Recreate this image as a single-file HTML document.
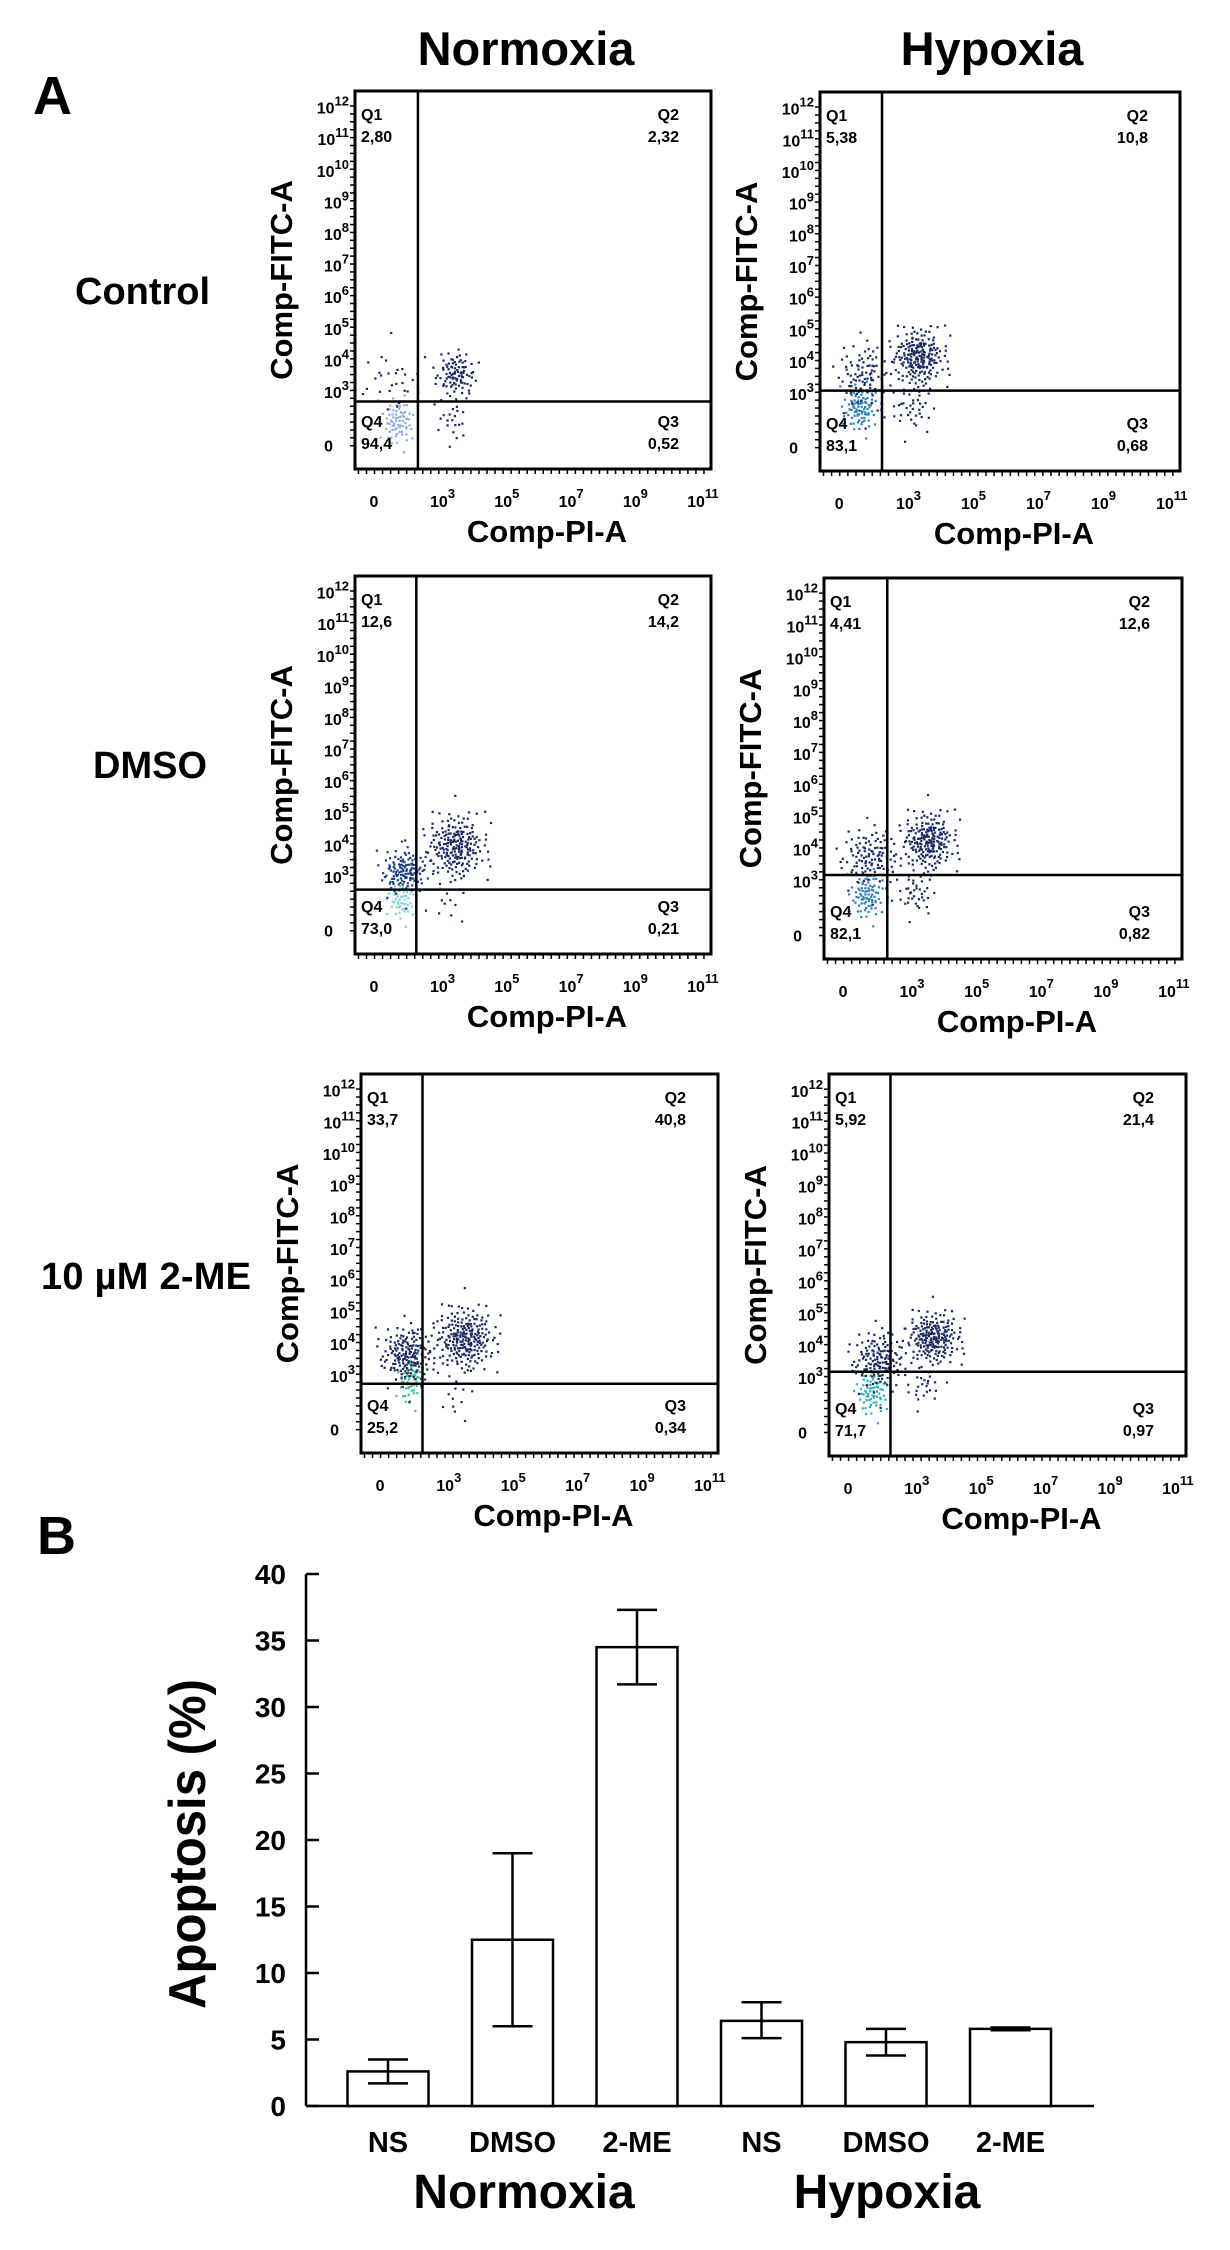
<!DOCTYPE html>
<html><head><meta charset="utf-8"><title>Flow cytometry and apoptosis</title>
<style>
html,body{margin:0;padding:0;background:#fff;}
svg{display:block;}
text{font-family:"Liberation Sans",Arial,sans-serif;fill:#000;}
</style></head>
<body>
<svg id="fig" width="1230" height="2250" viewBox="0 0 1230 2250" xmlns="http://www.w3.org/2000/svg">
<rect x="0" y="0" width="1230" height="2250" fill="#fff"/>
<text x="33" y="114" font-size="54" font-weight="bold">A</text>
<text x="526" y="65" font-size="47" font-weight="bold" text-anchor="middle">Normoxia</text>
<text x="992" y="65" font-size="47" font-weight="bold" text-anchor="middle">Hypoxia</text>
<text x="75" y="304" font-size="38" font-weight="bold">Control</text>
<text x="93" y="778" font-size="38" font-weight="bold">DMSO</text>
<text x="41" y="1289" font-size="38" font-weight="bold" textLength="210">10 µM 2-ME</text>
<text x="37" y="1554" font-size="54" font-weight="bold">B</text>
<g id="flow"></g>
<g id="bars"></g>
</svg>
<script>
// ---------- Bar chart data ----------
const categories = ["NS","DMSO","2-ME","NS","DMSO","2-ME"];
const apoptosisValues = [2.6, 12.5, 34.5, 6.4, 4.8, 5.8];
const errUpper = [3.5, 19.0, 37.3, 7.8, 5.8, 5.9];
const errLower = [1.7, 6.0, 31.7, 5.1, 3.8, 5.7];
const yTicks = [0,5,10,15,20,25,30,35,40];
const groupLabels = ["Normoxia","Hypoxia"];

// ---------- Flow data ----------
const quadrantValues = [
  ["2,80","2,32","0,52","94,4"],
  ["5,38","10,8","0,68","83,1"],
  ["12,6","14,2","0,21","73,0"],
  ["4,41","12,6","0,82","82,1"],
  ["33,7","40,8","0,34","25,2"],
  ["5,92","21,4","0,97","71,7"]
];
// gate positions in log units [x, y]
const gates = [[2.25,2.7],[2.2,3.1],[2.2,2.6],[2.25,3.2],[2.2,2.75],[2.2,3.2]];
// populations: [centerX, centerY, spreadX, spreadY, count, color]
const populations = [
  [[1.6,2.1,0.25,0.35,70,"#8fa8e8"],[1.5,3.4,0.5,0.55,30,"#1b2760"],[3.4,3.6,0.3,0.35,90,"#1b2760"],[3.3,2.2,0.25,0.4,22,"#1b2760"]],
  [[1.5,2.6,0.25,0.35,90,"#2a7fbf"],[1.6,3.6,0.4,0.5,90,"#1b2760"],[3.3,4.2,0.4,0.45,200,"#1b2760"],[3.1,2.6,0.35,0.4,40,"#1b2760"]],
  [[1.7,2.3,0.2,0.3,50,"#7fd3d0"],[1.8,3.2,0.35,0.35,130,"#1b3f8a"],[3.4,4.0,0.45,0.5,210,"#1b2760"],[3.2,2.2,0.3,0.3,10,"#1b2760"]],
  [[1.6,2.6,0.25,0.35,80,"#2a7fbf"],[1.7,3.8,0.45,0.45,110,"#1b2760"],[3.5,4.3,0.4,0.45,200,"#1b2760"],[3.1,2.7,0.3,0.35,40,"#1b2760"]],
  [[1.8,2.9,0.2,0.35,60,"#3ec28f"],[1.7,3.7,0.4,0.45,170,"#1b2760"],[3.5,4.2,0.45,0.5,230,"#1b2760"],[3.2,2.3,0.3,0.3,10,"#1b2760"]],
  [[1.6,2.6,0.25,0.35,70,"#2ab0b0"],[1.8,3.6,0.4,0.45,140,"#1b2760"],[3.5,4.3,0.4,0.4,200,"#1b2760"],[3.2,2.8,0.3,0.3,25,"#1b2760"]]
];
const xTickLabels = ["0","3","5","7","9","11"];
const xTickUnits = [0.9,3,5,7,9,11];
const yTickLabels = ["12","11","10","9","8","7","6","5","4","3","0"];
const yTickUnits = [12,11,10,9,8,7,6,5,4,3,1.3];

const NS = "http://www.w3.org/2000/svg";
function mk(tag, attrs, parent){const e=document.createElementNS(NS,tag);for(const k in attrs)e.setAttribute(k,attrs[k]);parent.appendChild(e);return e;}
function halton(i,b){let f=1,r=0;while(i>0){f/=b;r+=f*(i%b);i=Math.floor(i/b);}return r;}

const boxes = [
  {l:355,t:91,r:711,b:469},{l:820,t:92,r:1180,b:471},
  {l:355,t:576,r:711,b:954},{l:824,t:578,r:1182,b:959},
  {l:361,t:1074,r:718,b:1453},{l:829,t:1074,r:1186,b:1456}
];
const flow = document.getElementById('flow');
boxes.forEach((bx,pi)=>{
  const g = mk('g',{},flow);
  
  
  const w=bx.r-bx.l, h=bx.b-bx.t, sx=w/360, sy=h/378;
  const px=u=>bx.l+(88+(u-3)*32.5)*sx;
  const py=v=>bx.t+(301-(v-3)*31.6)*sy;
  let idx=1;
  populations[pi].forEach(p=>{
    for(let k=0;k<p[4];k++){
      const a=halton(idx,2)||0.5, c=halton(idx,3); idx++;
      const rr=Math.sqrt(-2*Math.log(Math.max(a,1e-3))), th=2*Math.PI*c;
      const u=p[0]+p[2]*rr*Math.cos(th), v=p[1]+p[3]*rr*Math.sin(th);
      const x=px(u), y=py(v);
      if(x<bx.l+2||x>bx.r-2||y<bx.t+2||y>bx.b-2) continue;
      const d=mk('rect',{x:x.toFixed(1),y:y.toFixed(1),width:2.2,height:2.2,fill:p[5]},g);
      
      
    }
  });
  const box=mk('rect',{x:bx.l,y:bx.t,width:w,height:h,fill:'none',stroke:'#000','stroke-width':3},g);
  
  
  const gx=px(gates[pi][0]), gy=py(gates[pi][1]);
  const vl=mk('line',{x1:gx,y1:bx.t,x2:gx,y2:bx.b,stroke:'#000','stroke-width':2.5},g);
  
  
  const hl=mk('line',{x1:bx.l,y1:gy,x2:bx.r,y2:gy,stroke:'#000','stroke-width':2.5},g);
  
  
  for(let v=1.3; v<=12.2; v+=0.25){
    const major=Math.abs(v-Math.round(v))<0.01;
    const y=py(v); if(y<bx.t||y>bx.b) continue;
    const t=mk('line',{x1:bx.l,y1:y,x2:bx.l-(major?8:5),y2:y,stroke:'#000','stroke-width':major?2.5:1.5},g);
    
    
  }
  for(let u=0.4; u<=11.6; u+=0.25){
    const major=Math.abs(u-Math.round(u))<0.01;
    const x=px(u); if(x<bx.l||x>bx.r) continue;
    const t=mk('line',{x1:x,y1:bx.b,x2:x,y2:bx.b+(major?8:5),stroke:'#000','stroke-width':major?2.5:1.5},g);
    
    
  }
  yTickLabels.forEach((lab,i)=>{
    const y=py(yTickUnits[i]);
    const t=mk('text',{x:bx.l-22,y:y+6,'font-size':16,'font-weight':'bold','text-anchor':'end'},g);
    
    
    if(lab==="0"){t.textContent="0";}
    else{t.textContent="10";const s=mk('tspan',{dy:-8,'font-size':13},t);s.textContent=lab;t.setAttribute('x',bx.l-6);}
  });
  xTickLabels.forEach((lab,i)=>{
    const x=px(xTickUnits[i]);
    const t=mk('text',{x:x-(lab==="0"?5:12),y:bx.b+38,'font-size':16,'font-weight':'bold'},g);
    
    
    if(lab==="0"){t.textContent="0";}
    else{t.textContent="10";const s=mk('tspan',{dy:-9,'font-size':13},t);s.textContent=lab;}
  });
  const xt=mk('text',{x:bx.l+w/2+14,y:bx.b+73,'font-size':31,'font-weight':'bold','text-anchor':'middle'},g);
  
  
  xt.textContent="Comp-PI-A";
  const yx=bx.l-63, yy=bx.t+h/2;
  const yt=mk('text',{x:yx,y:yy,'font-size':31,'font-weight':'bold','text-anchor':'middle',transform:`rotate(-90 ${yx} ${yy})`},g);
  
  
  yt.textContent="Comp-FITC-A";
  const q=quadrantValues[pi];
  const qs=[["Q1",q[0],bx.l+6,bx.t+29,'start'],["Q2",q[1],bx.r-32,bx.t+29,'end'],["Q3",q[2],bx.r-32,bx.b-42,'end'],["Q4",q[3],bx.l+6,bx.b-42,'start']];
  qs.forEach(a=>{
    const t1=mk('text',{x:a[2],y:a[3],'font-size':16,'font-weight':'bold','text-anchor':a[4]},g);
    
    
    t1.textContent=a[0];
    const t2=mk('text',{x:a[2],y:a[3]+22,'font-size':16,'font-weight':'bold','text-anchor':a[4]},g);
    
    
    t2.textContent=a[1];
  });
});

// ---------- Bar chart ----------
const bars=document.getElementById('bars');
const axX=306, axY0=2106, axYTop=1574, axRight=1094, yMax=40;
const yScale=v=>axY0-(v/yMax)*(axY0-axYTop);
const xCenter=i=>388+i*124.5;
const barW=81;
const ya=mk('line',{x1:axX,y1:axYTop,x2:axX,y2:axY0,stroke:'#000','stroke-width':2.5},bars);


const xa=mk('line',{x1:axX,y1:axY0,x2:axRight,y2:axY0,stroke:'#000','stroke-width':2.5},bars);


yTicks.forEach(v=>{
  const y=yScale(v);
  const t=mk('line',{x1:axX,y1:y,x2:axX+13,y2:y,stroke:'#000','stroke-width':2.5},bars);
  
  
  const l=mk('text',{x:axX-20,y:y+10,'font-size':28,'font-weight':'bold','text-anchor':'end'},bars);
  
  
  l.textContent=String(v);
});
apoptosisValues.forEach((v,i)=>{
  const cx=xCenter(i);
  const r=mk('rect',{x:cx-barW/2,y:yScale(v),width:barW,height:axY0-yScale(v),fill:'#fff',stroke:'#000','stroke-width':2.5},bars);
  
  
  const e=mk('path',{d:`M${cx},${yScale(errUpper[i])}V${yScale(errLower[i])}M${cx-20},${yScale(errUpper[i])}H${cx+20}M${cx-20},${yScale(errLower[i])}H${cx+20}`,stroke:'#000','stroke-width':2.5,fill:'none'},bars);
  
  
  const c=mk('text',{x:cx,y:2152,'font-size':29,'font-weight':'bold','text-anchor':'middle'},bars);
  
  
  c.textContent=categories[i];
});
groupLabels.forEach((g,i)=>{
  const t=mk('text',{x:i===0?524:887,y:2208,'font-size':48,'font-weight':'bold','text-anchor':'middle'},bars);
  
  
  t.textContent=g;
});
const ytx=205, yty=1844;
const ytt=mk('text',{x:ytx,y:yty,'font-size':52,'font-weight':'bold','text-anchor':'middle',textLength:330,lengthAdjust:'spacingAndGlyphs',transform:`rotate(-90 ${ytx} ${yty})`},bars);


ytt.textContent="Apoptosis (%)";
</script>
</body></html>
